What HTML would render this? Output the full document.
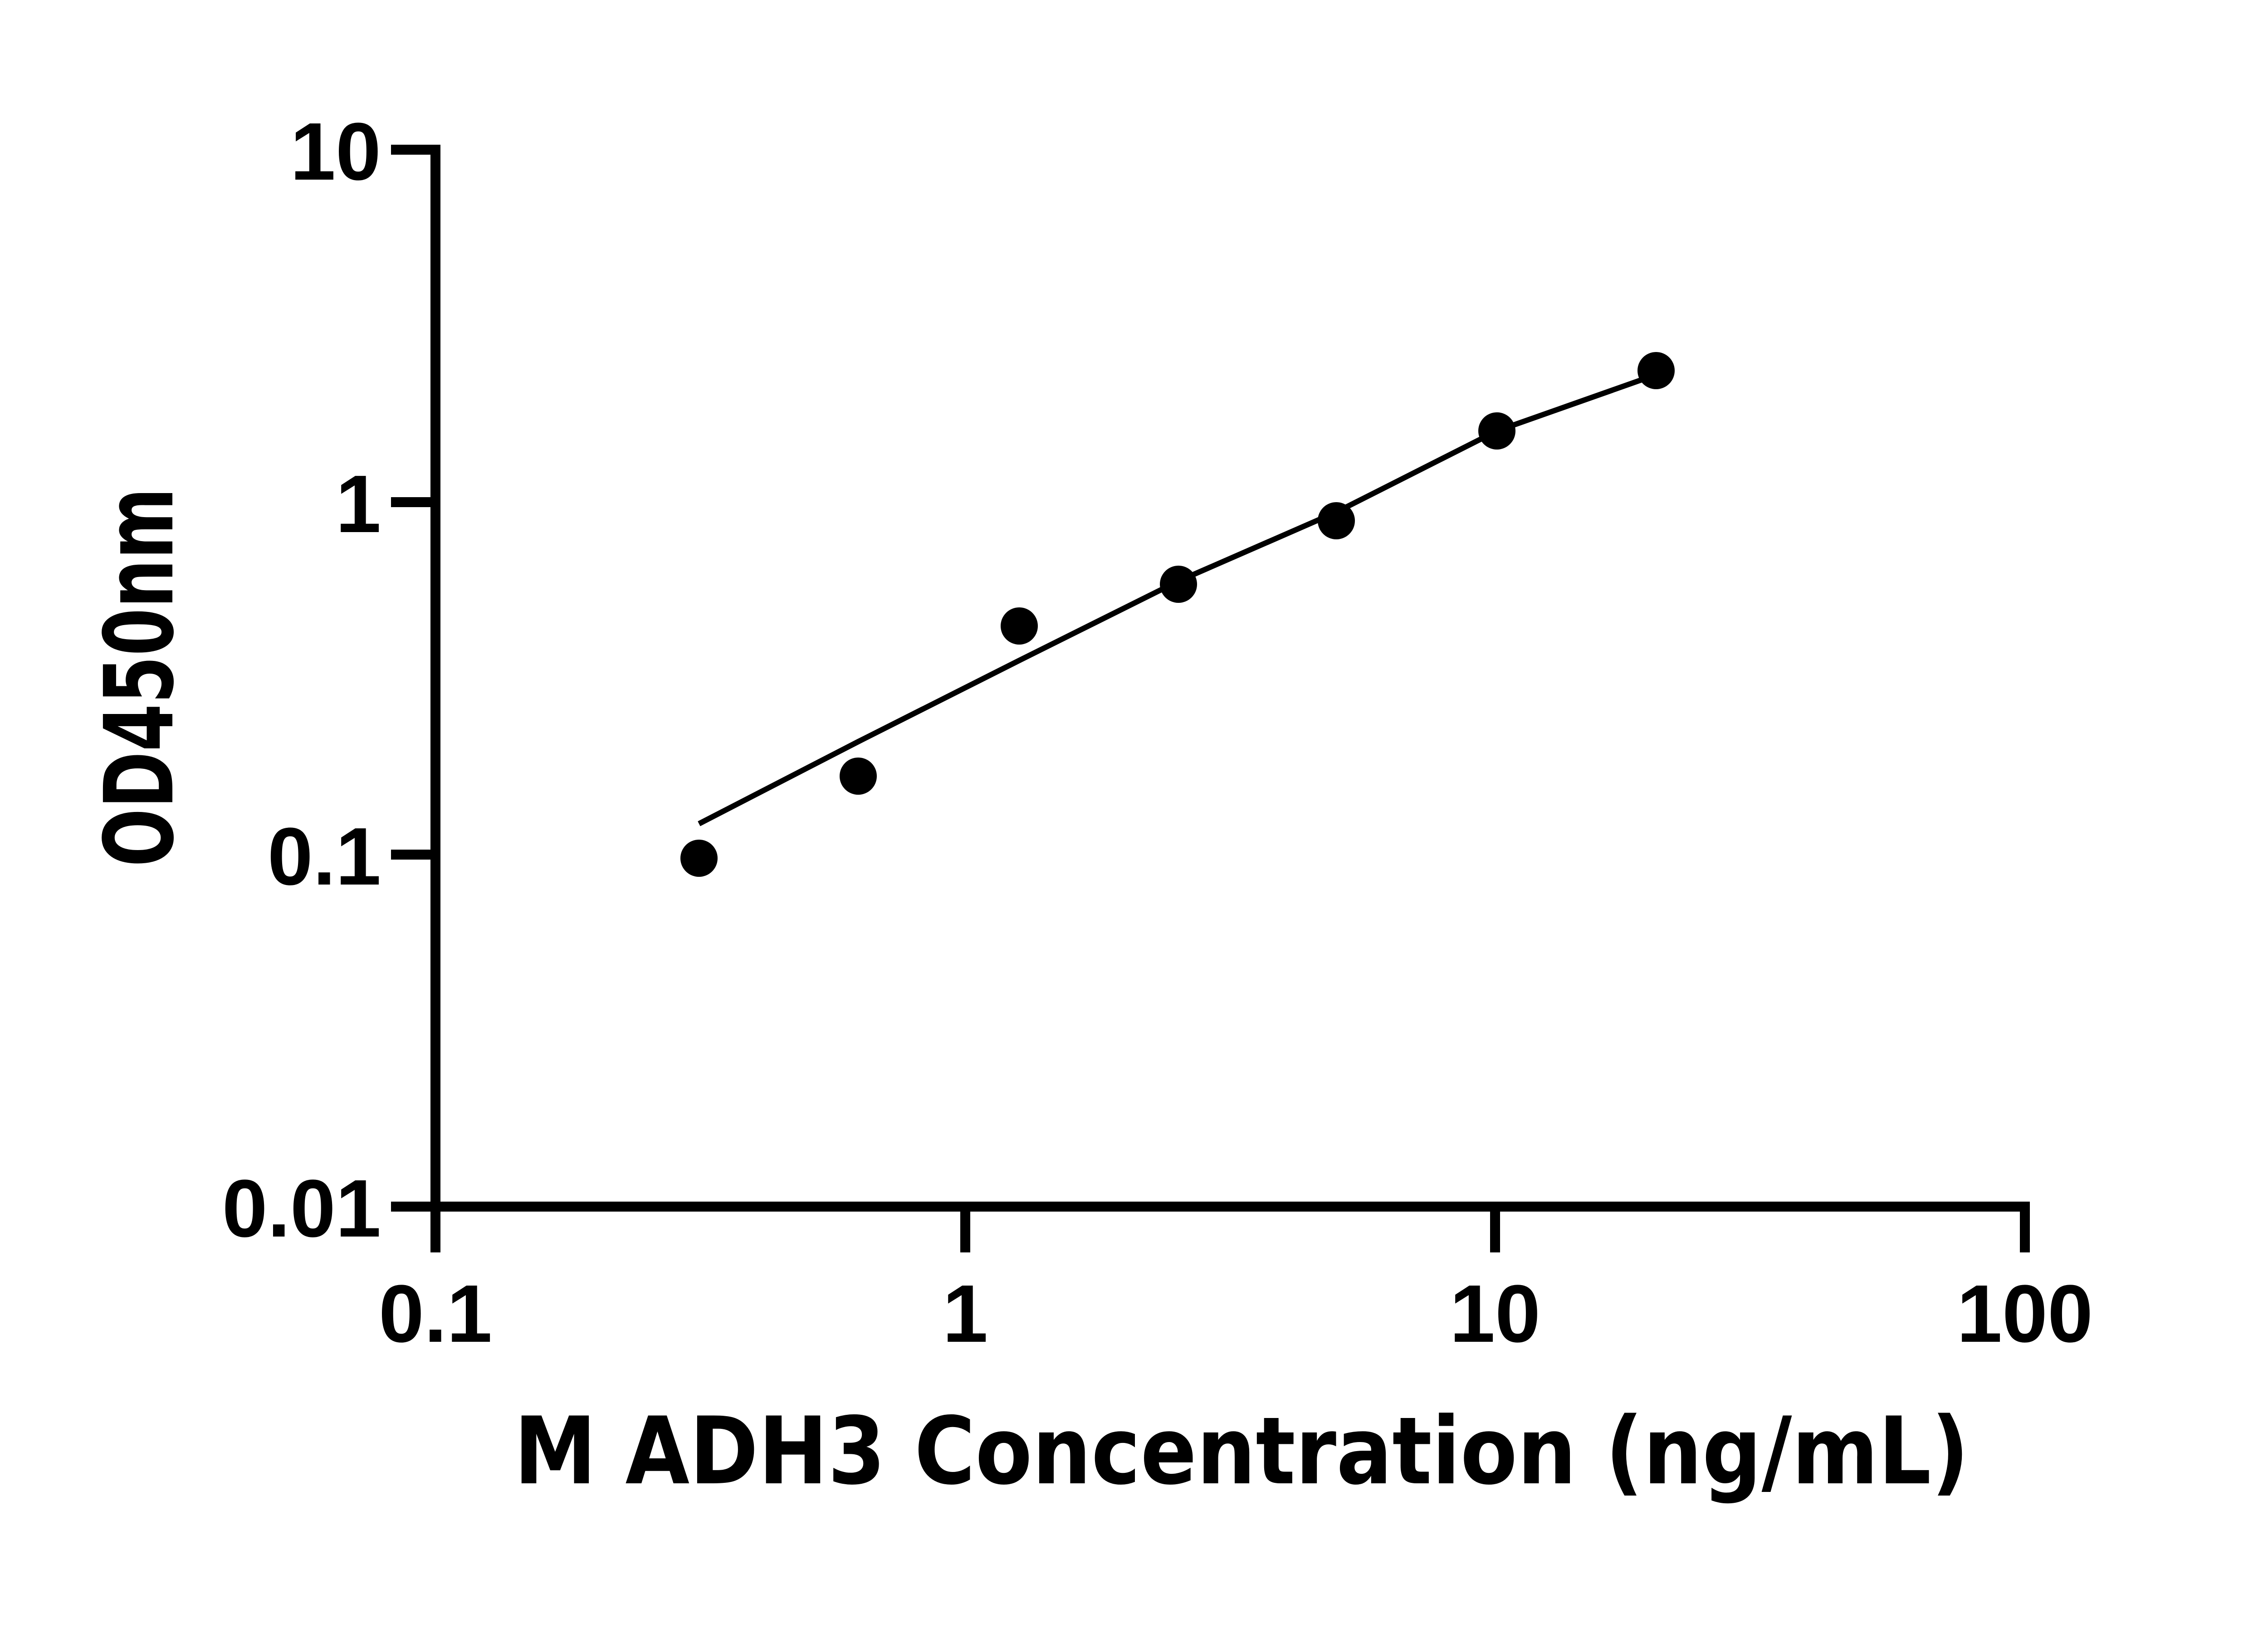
<!DOCTYPE html>
<html><head><style>html,body{margin:0;padding:0;background:#fff;}svg{display:block;}</style></head>
<body>
<svg width="5142" height="3600" viewBox="0 0 5142 3600" xmlns="http://www.w3.org/2000/svg">
<rect width="5142" height="3600" fill="#fff"/>
<g stroke="#000" stroke-width="22" fill="none" stroke-linecap="butt">
<line x1="960" y1="319" x2="960" y2="2671"/>
<line x1="949" y1="2660" x2="4475" y2="2660"/>
<line x1="862" y1="330" x2="960" y2="330"/>
<line x1="862" y1="1107" x2="960" y2="1107"/>
<line x1="862" y1="1884" x2="960" y2="1884"/>
<line x1="862" y1="2660" x2="960" y2="2660"/>
<line x1="960" y1="2660" x2="960" y2="2761"/>
<line x1="2128" y1="2660" x2="2128" y2="2761"/>
<line x1="3296" y1="2660" x2="3296" y2="2761"/>
<line x1="4464" y1="2660" x2="4464" y2="2761"/>
</g>
<g font-family="Liberation Sans, Arial, sans-serif" font-weight="bold" font-size="180" fill="#000">
<text x="840" y="396" text-anchor="end">10</text>
<text x="840" y="1173" text-anchor="end">1</text>
<text x="840" y="1950" text-anchor="end">0.1</text>
<text x="840" y="2726" text-anchor="end">0.01</text>
<text x="960" y="2958" text-anchor="middle">0.1</text>
<text x="2128" y="2958" text-anchor="middle">1</text>
<text x="3296" y="2958" text-anchor="middle">10</text>
<text x="4464" y="2958" text-anchor="middle">100</text>
</g>
<text x="2737" y="3270" text-anchor="middle" font-family="DejaVu Sans, Liberation Sans, sans-serif" font-weight="bold" font-size="205" textLength="3208" lengthAdjust="spacingAndGlyphs">M ADH3 Concentration (ng/mL)</text>
<text transform="translate(380,1493) rotate(-90)" text-anchor="middle" font-family="DejaVu Sans, Liberation Sans, sans-serif" font-weight="bold" font-size="210" textLength="836" lengthAdjust="spacingAndGlyphs">OD450nm</text>
<polyline fill="none" stroke="#000" stroke-width="12" points="1541,1816 1892,1635 2247,1456 2598,1281 2946,1129 3300,950 3651,826"/>
<g fill="#000">
<circle cx="1541" cy="1892" r="41"/>
<circle cx="1892" cy="1711" r="41"/>
<circle cx="2247" cy="1380" r="41"/>
<circle cx="2598" cy="1288" r="41"/>
<circle cx="2946" cy="1148" r="41"/>
<circle cx="3300" cy="950" r="41"/>
<circle cx="3651" cy="817" r="41"/>
</g>
</svg>
</body></html>
